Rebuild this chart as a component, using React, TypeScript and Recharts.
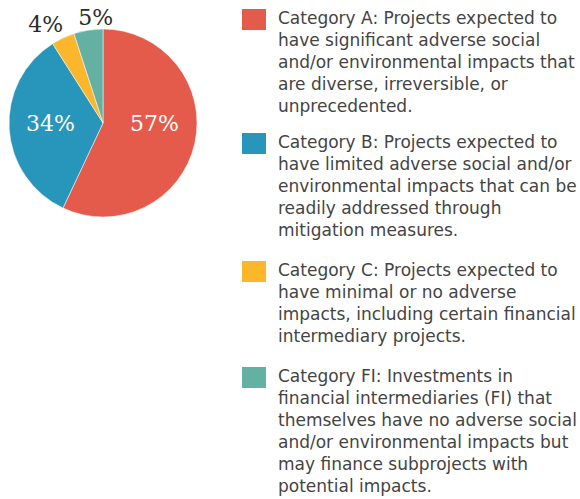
import { PieChart, Pie, Cell, Legend } from 'recharts';

const categories = ['Category A', 'Category B', 'Category C', 'Category FI'];
const shares = [57, 34, 4, 5];
const colors = ['#E55B4B', '#2896BA', '#FBB62B', '#64B0A2'];
const descriptions = [
    ['Category A: Projects expected to', 'have significant adverse social', 'and/or environmental impacts that', 'are diverse, irreversible, or', 'unprecedented.'],
    ['Category B: Projects expected to', 'have limited adverse social and/or', 'environmental impacts that can be', 'readily addressed through', 'mitigation measures.'],
    ['Category C: Projects expected to', 'have minimal or no adverse', 'impacts, including certain financial', 'intermediary projects.'],
    ['Category FI: Investments in', 'financial intermediaries (FI) that', 'themselves have no adverse social', 'and/or environmental impacts but', 'may finance subprojects with', 'potential impacts.'],
];

const data = categories.map((name, i) => ({ name, value: shares[i] }));

const RADIAN = Math.PI / 180;
const blockGaps = [16, 20, 20, 0];

const renderLabel = (props: any) => {
    const { cx, cy, midAngle, outerRadius, index, value } = props;
    // big slices: label inside on the centre line, small ones sit outside the rim
    const inside = value > 10;
    let r = outerRadius * 0.56;
    let angle = midAngle;
    if (!inside) {
        r = outerRadius + (index === 2 ? 20 : 12);
        angle = midAngle + (index === 2 ? 5 : -5);
    }
    const x = cx + r * Math.cos(-angle * RADIAN);
    const y = inside ? cy : cy + r * Math.sin(-angle * RADIAN);
    return (
        <text
            x={x}
            y={y}
            fill={inside ? '#ffffff' : '#2b2b2b'}
            textAnchor="middle"
            dominantBaseline="central"
            style={{ fontFamily: '"DejaVu Serif", serif', fontSize: 22 }}
        >
            {`${value}%`}
        </text>
    );
};

const renderLegend = (props: any) => {
    const { payload } = props;
    return (
        <div style={{ fontFamily: '"DejaVu Sans", sans-serif', fontSize: 17, color: '#444444', lineHeight: '22px' }}>
            {payload.map((entry: any, i: number) => (
                <div key={entry.value} style={{ display: 'flex', marginBottom: blockGaps[i] }}>
                    <div style={{ width: 24, height: 21, background: entry.color, flexShrink: 0 }} />
                    <div style={{ marginLeft: 12, marginTop: -2 }}>
                        {descriptions[i].map((line) => (
                            <div key={line} style={{ whiteSpace: 'nowrap' }}>{line}</div>
                        ))}
                    </div>
                </div>
            ))}
        </div>
    );
};

const App = () => {
    return (
        <div style={{ position: 'absolute', left: 0, top: 0, width: 580, height: 499, background: '#ffffff' }}>
            <PieChart width={580} height={499} margin={{ top: 0, right: 0, bottom: 0, left: 0 }}>
                <Pie
                    data={data}
                    dataKey="value"
                    nameKey="name"
                    cx={103}
                    cy={123}
                    outerRadius={94}
                    startAngle={90}
                    endAngle={-270}
                    stroke="#ffffff"
                    strokeWidth={0.5}
                    label={renderLabel}
                    labelLine={false}
                    isAnimationActive={false}
                >
                    {data.map((d, i) => (
                        <Cell key={d.name} fill={colors[i]} />
                    ))}
                </Pie>
                <Legend
                    layout="vertical"
                    align="right"
                    verticalAlign="top"
                    content={renderLegend}
                    wrapperStyle={{ left: 242, top: 9, width: 338 }}
                />
            </PieChart>
        </div>
    );
};

export default App;
